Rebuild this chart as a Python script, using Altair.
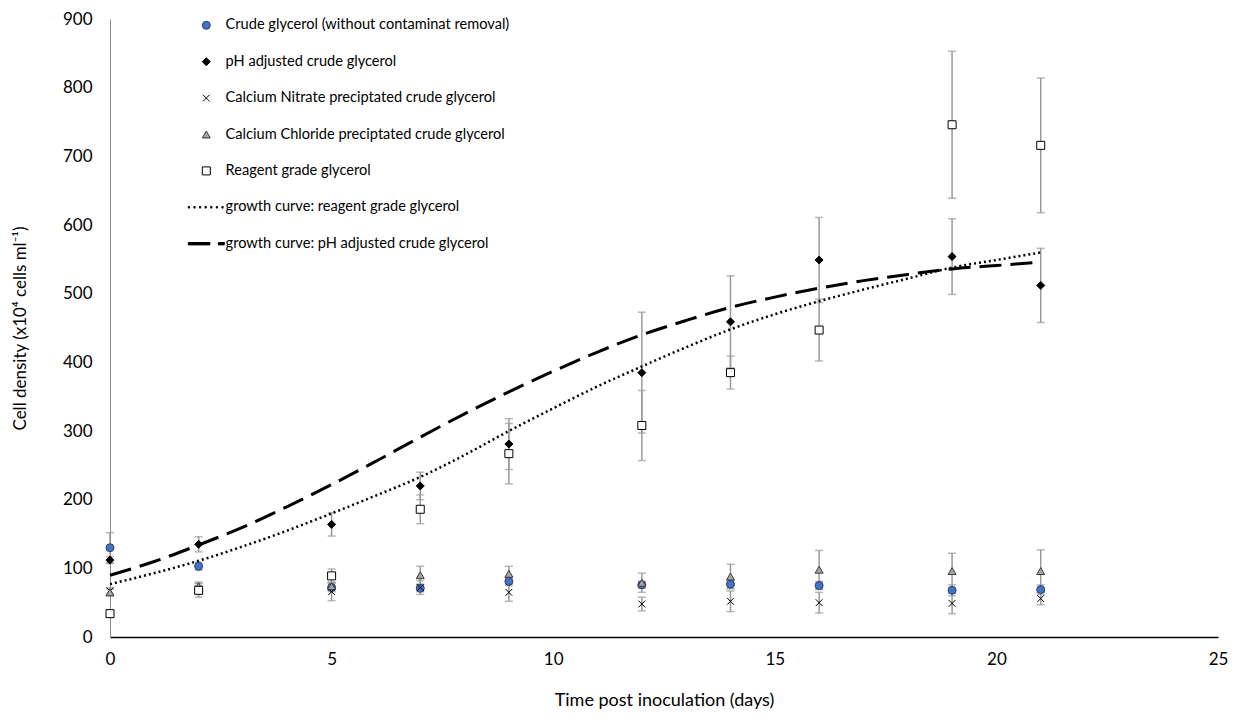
import altair as alt
import pandas as pd

# ---------------- data ----------------
days = [0, 2, 5, 7, 9, 12, 14, 16, 19, 21]

series_names = [
    "Crude glycerol (without contaminat removal)",
    "pH adjusted crude glycerol",
    "Calcium Nitrate preciptated crude glycerol",
    "Calcium Chloride preciptated crude glycerol",
    "Reagent grade glycerol",
    "growth curve: reagent grade glycerol",
    "growth curve: pH adjusted crude glycerol",
]

crude = [130, 103, 72, 71, 81, 76, 77, 75, 68, 69]
crude_err = [22, 6, 6, 5, 6, 5, 6, 6, 8, 7]

ph_adj = [112, 135, 164, 220, 281, 385, 459, 549, 554, 512]
ph_adj_err = [5, 11, 17, 20, 37, 88, 67, 62, 55, 54]

nitrate = [67, 70, 66, 72, 65, 48, 52, 50, 49, 56]
nitrate_err = [5, 8, 13, 10, 13, 10, 15, 15, 15, 9]

chloride = [65, 74, 74, 90, 92, 79, 88, 98, 96, 96]
chloride_err = [5, 6, 6, 13, 11, 14, 18, 28, 26, 31]

reagent = [34, 68, 89, 186, 267, 308, 385, 447, 746, 716]
reagent_err = [5, 10, 10, 21, 44, 51, 24, 45, 107, 98]

curve_days = list(range(22))
curve_reagent = [77, 93, 111, 132, 155, 180, 206, 233, 265, 300, 333, 365,
                 394, 422, 448, 470, 489, 506, 522, 538, 549, 560]
curve_ph = [90, 110, 134, 160, 190, 222, 256, 291, 325, 357, 387, 415,
            440, 461, 480, 495, 508, 519, 528, 536, 541, 546]

# ---------------- styles ----------------
dotted_path = " ".join(
    f"M{x:.2f},-0.2H{x + 0.3:.2f}V0.2H{x:.2f}Z"
    for x in [-4.5, -3.1, -1.7, -0.3, 1.1, 2.5, 3.9]
)
dashed_path = "M-4.5,-0.3H0.9V0.3H-4.5Z M3.0,-0.3H4.5V0.3H3.0Z"
cross_path = "M-0.85,-0.85L0.85,0.85M0.85,-0.85L-0.85,0.85"

shapes = ["circle", "diamond", cross_path, "triangle-up", "square",
          dotted_path, dashed_path]
fills = ["#4472C4", "#000000", "#000000", "#A5A5A5", "#FFFFFF",
         "#000000", "#000000"]
strokes = ["#27406E", "#000000", "#000000", "#3A3A3A", "#000000",
           "#000000", "#000000"]

# ---------------- tables ----------------
rows = []
for name, vals, errs in [
    (series_names[0], crude, crude_err),
    (series_names[1], ph_adj, ph_adj_err),
    (series_names[2], nitrate, nitrate_err),
    (series_names[3], chloride, chloride_err),
    (series_names[4], reagent, reagent_err),
]:
    for d, v, e in zip(days, vals, errs):
        rows.append({"day": d, "series": name, "val": v, "lo": v - e, "hi": v + e})
pts = pd.DataFrame(rows)

curves = pd.DataFrame({
    "day": curve_days,
    "reagent": curve_reagent,
    "ph": curve_ph,
})

xscale = alt.Scale(domain=[0, 25], nice=False)
yscale = alt.Scale(domain=[0, 900], nice=False)

xaxis = alt.Axis(
    values=[0, 5, 10, 15, 20, 25], grid=False, ticks=False, labelFlush=False,
    domainColor="#000000", domainWidth=1.5,
    labelFont="Lato", labelFontSize=17, labelColor="#000000", labelPadding=14,
    title="Time post inoculation (days)", titleFont="Lato", titleFontSize=18,
    titleFontWeight="normal", titleColor="#000000", titlePadding=24,
)
yaxis = alt.Axis(
    values=list(range(0, 901, 100)), grid=False, ticks=False, labelFlush=False,
    domainColor="#8C8C8C", domainWidth=1,
    labelFont="Lato", labelFontSize=17, labelColor="#000000", labelPadding=18,
    title="Cell density (x10⁴ cells ml⁻¹)", titleFont="Lato", titleFontSize=17,
    titleFontWeight="normal", titleColor="#000000", titlePadding=33,
)

base = alt.Chart(pts)

err_rule = base.mark_rule(color="#9A9A9A", strokeWidth=1.5).encode(
    x=alt.X("day:Q", scale=xscale, axis=xaxis),
    y=alt.Y("lo:Q", scale=yscale, axis=yaxis),
    y2="hi:Q",
)
cap_hi = base.mark_tick(color="#9A9A9A", orient="horizontal", size=8, thickness=1.5).encode(
    x=alt.X("day:Q", scale=xscale),
    y=alt.Y("hi:Q", scale=yscale),
)
cap_lo = base.mark_tick(color="#9A9A9A", orient="horizontal", size=8, thickness=1.5).encode(
    x=alt.X("day:Q", scale=xscale),
    y=alt.Y("lo:Q", scale=yscale),
)

line_reagent = alt.Chart(curves).mark_line(
    color="#000000", strokeWidth=2.5, strokeDash=[2, 3], interpolate="monotone"
).encode(
    x=alt.X("day:Q", scale=xscale),
    y=alt.Y("reagent:Q", scale=yscale),
)
line_ph = alt.Chart(curves).mark_line(
    color="#000000", strokeWidth=3, strokeDash=[22, 9], interpolate="monotone"
).encode(
    x=alt.X("day:Q", scale=xscale),
    y=alt.Y("ph:Q", scale=yscale),
)

legend = alt.Legend(
    orient="none", legendX=89, legendY=-1, title=None,
    labelFont="Lato", labelFontSize=14.6, labelColor="#000000", labelLimit=500,
    symbolSize=64, symbolStrokeWidth=1, labelOffset=12, rowPadding=21.4,
    padding=0,
)

points = base.mark_point(size=64, opacity=1, strokeWidth=1).encode(
    x=alt.X("day:Q", scale=xscale),
    y=alt.Y("val:Q", scale=yscale),
    shape=alt.Shape("series:N", scale=alt.Scale(domain=series_names, range=shapes), legend=legend),
    fill=alt.Fill("series:N", scale=alt.Scale(domain=series_names, range=fills), legend=legend),
    stroke=alt.Stroke("series:N", scale=alt.Scale(domain=series_names, range=strokes), legend=legend),
)

chart = alt.layer(err_rule, cap_hi, cap_lo, line_reagent, line_ph, points).properties(
    width=1108, height=618,
    autosize=alt.AutoSizeParams(type="none"),
    padding={"left": 102, "top": 11, "right": 10, "bottom": 80},
    background="white",
).configure_view(stroke=None)

chart.save("out.html", embed_options={"renderer": "svg", "actions": False})
